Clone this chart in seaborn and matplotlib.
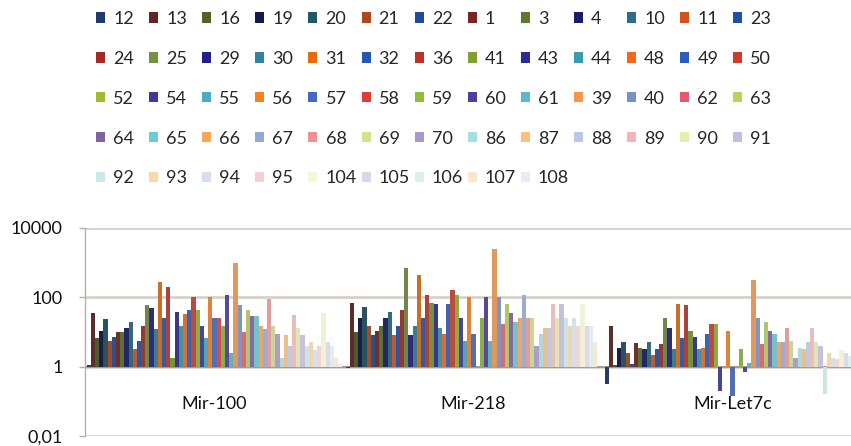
import pandas as pd
import matplotlib
matplotlib.use('Agg')
import matplotlib.pyplot as plt
from matplotlib.patches import Patch
from matplotlib.ticker import NullLocator
import seaborn as sns

# categories and samples (legend order, row by row as in the original)
mirnas = ['Mir-100', 'Mir-218', 'Mir-Let7c']
samples = ['12', '13', '16', '19', '20', '21', '22', '1', '3', '4', '10', '11', '23',
           '24', '25', '29', '30', '31', '32', '36', '41', '43', '44', '48', '49', '50',
           '52', '54', '55', '56', '57', '58', '59', '60', '61', '39', '40', '62', '63',
           '64', '65', '66', '67', '68', '69', '70', '86', '87', '88', '89', '90', '91',
           '92', '93', '94', '95', '104', '105', '106', '107', '108']

# fold change values
mir100 = [1.1, 35, 6.5, 11, 23, 5.6, 7, 10, 10, 13, 19, 3.3, 5.6,
          15, 59, 48, 12.6, 270, 25, 195, 1.8, 37, 15, 34, 42, 100,
          42, 15, 6.5, 100, 25, 25, 15, 115, 2.4, 950, 59, 10, 42,
          28, 28, 15, 12, 87, 15, 9, 1.8, 8, 4, 30, 13, 8,
          4, 5, 3, 4, 36, 5, 4, 1.8, 1.2]
mir218 = [0.9, 67, 10, 26, 51, 15, 8, 11, 15, 25, 39, 8, 15,
          42, 700, 8, 15, 430, 25, 115, 70, 65, 13, 9, 65, 160,
          115, 25, 5.6, 100, 9, 1.0, 25, 105, 5.6, 2450, 105, 17, 65,
          36, 19, 25, 115, 25, 25, 4, 9, 13, 13, 65, 25, 65,
          25, 15, 25, 15, 65, 15, 15, 5, 1.0]
let7c = [0.32, 15, 1.1, 3.5, 5.3, 2.4, 1.2, 4.9, 3.5, 3.3, 5, 2.1, 3.3,
         4.5, 25, 13, 3.3, 65, 6.5, 59, 11, 7, 3.3, 3.5, 9, 17,
         17, 0.2, 1.0, 11, 0.14, 1.0, 3.3, 0.7, 1.3, 310, 25, 4.6, 19,
         11, 9, 5.3, 5.3, 13, 5.6, 1.8, 3.5, 3.3, 5, 13, 5, 4,
         0.16, 2.4, 1.8, 1.7, 3, 2.5, 2, 2, 1.5]

colors = ['#1F3A6E', '#632523', '#4F6228', '#15174F', '#205868', '#B0461C',
          '#1F4C96', '#7B2424', '#5F7A2C', '#1C1C6C', '#2A6F86', '#D0521E',
          '#2050A6', '#A42A28', '#76923C', '#202088', '#31849B', '#E46C0A',
          '#2457B2', '#BE302C', '#7F9F2F', '#2B2B95', '#3A9AB0', '#F0691C',
          '#2D5EBE', '#CF3A2A', '#9BBB31', '#3D3A9C', '#4BACC6', '#F6821F',
          '#4169C2', '#DF3C3C', '#8DBF3A', '#4F3DA0', '#5ABACB', '#F79646',
          '#7890C8', '#E55A6A', '#C0D060', '#8064A2', '#6CCBD7', '#F9A65A',
          '#95A8D5', '#EE9090', '#D4E08A', '#A898CC', '#A8DCE4', '#F9C07F',
          '#B8C8E6', '#F2B4B4', '#E6EDAE', '#C6BCDE', '#C8E8EC', '#FAD6A8',
          '#D4DEF0', '#F6D0D0', '#F4F6D4', '#DDD6EA', '#DCEFF0', '#FCE6CC',
          '#E6EDF7']

sns.set_theme(style='white')
plt.rcParams['font.family'] = ['Lato', 'DejaVu Sans']

rows = []
for mir, vals in zip(mirnas, [mir100, mir218, let7c]):
    for s, v in zip(samples, vals):
        rows.append({'mir': mir, 'sample': s, 'value': v})
df = pd.DataFrame(rows)
# bars grow from 1 (the category axis crosses there), like in excel
df['height'] = df['value'] - 1

fig = plt.figure(figsize=(8.51, 4.46), dpi=100)
ax = fig.add_axes([85 / 851, 10 / 446, 777 / 851, 208 / 446])

sns.barplot(data=df, x='mir', y='height', hue='sample', order=mirnas, hue_order=samples,
            palette=colors, width=0.988, gap=0, errorbar=None, bottom=1,
            linewidth=0, legend=False, ax=ax)

ax.set_yscale('log')
ax.set_ylim(0.01, 10000)
ax.set_xlim(-0.5, 2.5)
ax.set_yticks([0.01, 1, 100, 10000])
ax.set_yticklabels(['0,01', '1', '100', '10000'])
ax.yaxis.set_minor_locator(NullLocator())
ax.set_xticks([])
ax.set_xlabel('')
ax.set_ylabel('')
ax.grid(axis='y', color='#D9D1C9', linewidth=2)
ax.set_axisbelow(True)
ax.axhline(1, color='#9A8F86', linewidth=1.2, zorder=0.6)
for s in ['top', 'right', 'bottom']:
    ax.spines[s].set_visible(False)
ax.spines['left'].set_color('#B0B0B0')
ax.spines['left'].set_linewidth(1)
ax.tick_params(axis='y', left=True, length=4, width=1, color='#B0B0B0',
               pad=12, labelsize=13, labelcolor='#111111')

for i, name in enumerate(mirnas):
    ax.text(i, 0.085, name, ha='center', va='center', fontsize=13, color='#111111')

# legend: 13 fixed-width columns, filled row by row
handles = [Patch(facecolor=c, edgecolor='none') for c in colors]
for c in range(13):
    fig.legend(handles[c::13], samples[c::13], loc='upper left',
               bbox_to_anchor=((96 + 53.1 * c) / 851, 1 - 11 / 446),
               ncol=1, frameon=False, fontsize=13, handlelength=0.5,
               handleheight=0.5, handletextpad=0.45, labelspacing=1.32,
               borderpad=0, borderaxespad=0)

fig.savefig('out.png', dpi=100, facecolor='white')
